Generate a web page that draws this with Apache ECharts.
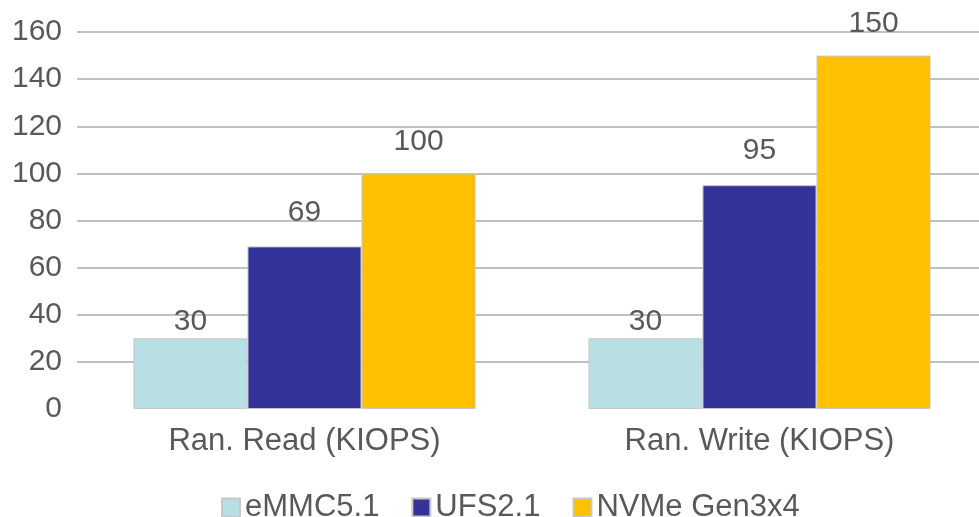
<!DOCTYPE html>
<html>
<head>
<meta charset="utf-8">
<script src="https://cdn.jsdelivr.net/npm/echarts@6/dist/echarts.min.js"></script>
<style>
html,body{margin:0;padding:0;background:#fff;}
#chart{width:979px;height:517px;}
</style>
</head>
<body>
<div id="chart"></div>
<script>
const categories = ['Ran. Read (KIOPS)', 'Ran. Write (KIOPS)'];
const seriesNames = ['eMMC5.1', 'UFS2.1', 'NVMe Gen3x4'];
const emmcValues = [30, 30];
const ufsValues = [69, 95];
const nvmeValues = [100, 150];
const yTicks = [0, 20, 40, 60, 80, 100, 120, 140, 160];

const colors = ['#b8dfe3', '#333399', '#ffc000'];
const labelDist = [2, 19, 17];
const font = 'Liberation Sans, Arial, sans-serif';
const txt = '#595959';

const chart = echarts.init(document.getElementById('chart'));
const values = [emmcValues, ufsValues, nvmeValues];
const splitColors = yTicks.map((t, i) => i === 0 ? 'rgba(0,0,0,0)' : '#c0c0c0');

chart.setOption({
  animation: false,
  color: colors,
  grid: { left: 77, width: 910, top: 32, bottom: 108, containLabel: false, outerBoundsMode: 'none' },
  legend: {
    left: 216, top: 487,
    icon: 'rect', itemWidth: 18, itemHeight: 18, itemGap: 32,
    textStyle: { fontFamily: font, fontSize: 31, color: txt },
    data: seriesNames
  },
  xAxis: {
    type: 'category', data: categories,
    axisLine: { show: false }, axisTick: { show: false },
    axisLabel: { fontFamily: font, fontSize: 31, color: txt, margin: 17 }
  },
  yAxis: {
    type: 'value', min: yTicks[0], max: yTicks[yTicks.length - 1], interval: 20,
    axisLine: { show: false }, axisTick: { show: false },
    axisLabel: { fontFamily: font, fontSize: 30, color: txt, margin: 15 },
    splitLine: { show: true, lineStyle: { color: splitColors, width: 2 } }
  },
  series: seriesNames.map((name, i) => ({
    name, type: 'bar', data: values[i],
    barGap: '0%', barCategoryGap: '24.8%',
    itemStyle: { color: colors[i], borderColor: '#c8c8c8', borderWidth: 1 },
    label: {
      show: true, position: 'top', distance: labelDist[i],
      fontFamily: font, fontSize: 30, color: txt
    }
  }))
});
</script>
</body>
</html>
